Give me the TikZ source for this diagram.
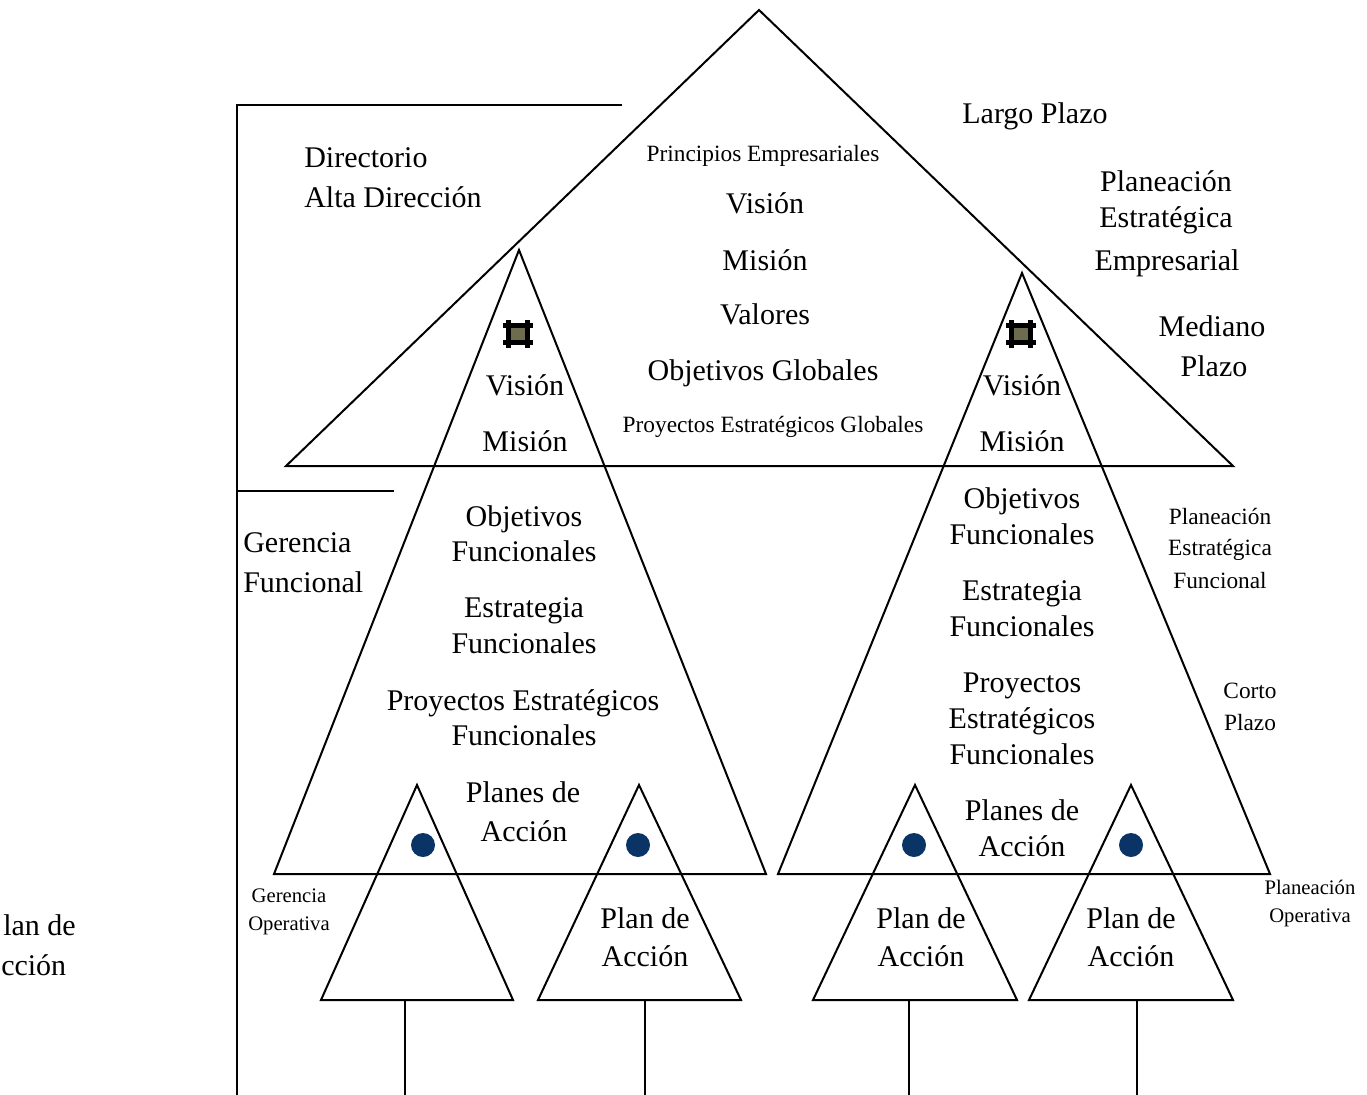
\documentclass[tikz,border=0pt]{standalone}
\usepackage{fontspec}
\setmainfont{Liberation Serif}
\definecolor{navy}{RGB}{10,52,102}
\definecolor{olive}{RGB}{110,108,78}
\begin{document}
\begin{tikzpicture}[x=0.75pt,y=-0.75pt,
  edge/.style={line width=1.5pt, line join=miter},
  big/.style={font=\fontsize{22.5}{27}\selectfont, inner sep=0pt, anchor=base},
  mid/.style={font=\fontsize{17.5}{21}\selectfont, inner sep=0pt, anchor=base},
  tiny/.style={font=\fontsize{15.5}{19}\selectfont, inner sep=0pt, anchor=base},
  dot/.style={circle, fill=navy, minimum size=18pt, inner sep=0pt},
]
\useasboundingbox (0,0) rectangle (1367,1095);

% ---- triangles ----
\coordinate (Ta) at (759,10);   \coordinate (Tl) at (286,466);  \coordinate (Tr) at (1233,466);
\coordinate (La) at (519,250);  \coordinate (Ll) at (274,874);  \coordinate (Lr) at (766,874);
\coordinate (Ra) at (1022,273); \coordinate (Rl) at (778,874);  \coordinate (Rr) at (1270,874);
\coordinate (Aa) at (417,785);  \coordinate (Al) at (321,1000); \coordinate (Ar) at (513,1000);
\coordinate (Ba) at (639,785);  \coordinate (Bl) at (538,1000); \coordinate (Br) at (741,1000);
\coordinate (Ca) at (915,785);  \coordinate (Cl) at (813,1000); \coordinate (Cr) at (1017,1000);
\coordinate (Da) at (1131,785); \coordinate (Dl) at (1029,1000);\coordinate (Dr) at (1233,1000);
\draw[edge] (Ta) -- (Tl) -- (Tr) -- cycle;
\draw[edge] (La) -- (Ll) -- (Lr) -- cycle;
\draw[edge] (Ra) -- (Rl) -- (Rr) -- cycle;
\draw[edge] (Aa) -- (Al) -- (Ar) -- cycle;
\draw[edge] (Ba) -- (Bl) -- (Br) -- cycle;
\draw[edge] (Ca) -- (Cl) -- (Cr) -- cycle;
\draw[edge] (Da) -- (Dl) -- (Dr) -- cycle;

% ---- stems below the small triangles ----
\foreach \n/\sx in {1/405,2/645,3/909,4/1137}{
  \coordinate (st\n) at (\sx,1000);
  \coordinate (sb\n) at (\sx,1095);
  \draw[edge] (st\n) -- (sb\n);
}

% ---- left bracket ----
\coordinate (K1) at (622,105); \coordinate (K2) at (237,105); \coordinate (K3) at (237,1095);
\coordinate (K4) at (237,491); \coordinate (K5) at (394,491);
\draw[edge] (K1) -- (K2) -- (K3);
\draw[edge] (K4) -- (K5);

% ---- markers ----
\foreach \cx in {518,1021}{
  \fill[olive] (\cx-9,325) rectangle (\cx+9,343);
  \draw[line width=3.75pt] (\cx-15,325.5) -- (\cx+15,325.5);
  \draw[line width=3.75pt] (\cx-15,342) -- (\cx+15,342);
  \draw[line width=3.75pt] (\cx-9.5,320) -- (\cx-9.5,348);
  \draw[line width=3.75pt] (\cx+9.5,320) -- (\cx+9.5,348);
}

% ---- dots ----
\node[dot] (d1) at (423,845) {};
\node[dot] (d2) at (638,845) {};
\node[dot] (d3) at (914,845) {};
\node[dot] (d4) at (1131,845) {};

% ---- top pyramid texts ----
\node[big, anchor=base west] (dir1) at (304,168) {Directorio};
\node[big, anchor=base west] (dir2) at (304,208) {Alta Dirección};
\node[mid] (pe) at (763,162) {Principios Empresariales};
\node[big] (tv) at (765,214) {Visión};
\node[big] (tm) at (765,270) {Misión};
\node[big] (tval) at (765,324) {Valores};
\node[big] (tog) at (763,380) {Objetivos Globales};
\node[mid] (peg) at (773,432) {Proyectos Estratégicos Globales};

\node[big] (lp) at (1035,124) {Largo Plazo};
\node[big] (pee1) at (1166,192) {Planeación};
\node[big] (pee2) at (1166,228) {Estratégica};
\node[big] (pee3) at (1167,270) {Empresarial};
\node[big] (mp1) at (1212,336) {Mediano};
\node[big] (mp2) at (1214,376) {Plazo};

% ---- left functional pyramid ----
\node[big] (lv) at (525,395) {Visión};
\node[big] (lm) at (525,451) {Misión};
\node[big] (lo1) at (524,526) {Objetivos};
\node[big] (lo2) at (524,561) {Funcionales};
\node[big] (le1) at (524,617) {Estrategia};
\node[big] (le2) at (524,653) {Funcionales};
\node[big] (lp1) at (523,710) {Proyectos Estratégicos};
\node[big] (lp2) at (524,745) {Funcionales};
\node[big] (la1) at (523,802) {Planes de};
\node[big] (la2) at (524,841) {Acción};

% ---- right functional pyramid ----
\node[big] (rv) at (1022,395) {Visión};
\node[big] (rm) at (1022,451) {Misión};
\node[big] (ro1) at (1022,508) {Objetivos};
\node[big] (ro2) at (1022,544) {Funcionales};
\node[big] (re1) at (1022,600) {Estrategia};
\node[big] (re2) at (1022,636) {Funcionales};
\node[big] (rp1) at (1022,692) {Proyectos};
\node[big] (rp2) at (1022,728) {Estratégicos};
\node[big] (rp3) at (1022,764) {Funcionales};
\node[big] (ra1) at (1022,820) {Planes de};
\node[big] (ra2) at (1022,856) {Acción};

% ---- side labels ----
\node[big, anchor=base west] (gf1) at (243,552) {Gerencia};
\node[big, anchor=base west] (gf2) at (243,592) {Funcional};
\node[mid] (pef1) at (1220,524) {Planeación};
\node[mid] (pef2) at (1220,555) {Estratégica};
\node[mid] (pef3) at (1220,588) {Funcional};
\node[mid] (cp1) at (1250,698) {Corto};
\node[mid] (cp2) at (1250,730) {Plazo};
\node[tiny] (go1) at (289,902) {Gerencia};
\node[tiny] (go2) at (289,930) {Operativa};
\node[tiny] (po1) at (1310,894) {Planeación};
\node[tiny] (po2) at (1310,922) {Operativa};

% ---- action plans ----
\node[big, anchor=base west] (pa01) at (3,935) {lan de};
\node[big, anchor=base west] (pa02) at (1,975) {cción};
\node[big] (pb1) at (645,928) {Plan de};
\node[big] (pb2) at (645,966) {Acción};
\node[big] (pc1) at (921,928) {Plan de};
\node[big] (pc2) at (921,966) {Acción};
\node[big] (pd1) at (1131,928) {Plan de};
\node[big] (pd2) at (1131,966) {Acción};
\end{tikzpicture}
\end{document}
